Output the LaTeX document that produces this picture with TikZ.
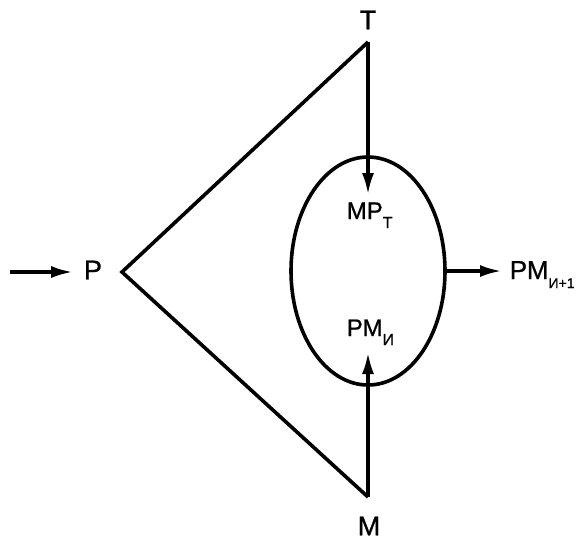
\documentclass[tikz,border=0pt]{standalone}
\usepackage{fontspec}
\setmainfont{Liberation Sans}[FakeBold=0.8]
\usetikzlibrary{arrows.meta,shapes.geometric}
\newcommand{\lowidx}[1]{\raisebox{-4.5pt}{\fontsize{8}{9}\selectfont #1}}
\newcommand{\lowidxs}[1]{\raisebox{-4.5pt}{\fontsize{7}{8}\selectfont #1}}

\begin{document}
\begin{tikzpicture}[x=0.5pt,y=-0.5pt,line width=1.8pt,
  >={Latex[length=11pt,width=6pt]},
  big/.style={inner sep=0pt,font=\fontsize{13.5}{15}\selectfont},
  small/.style={inner sep=0pt,font=\fontsize{12}{14}\selectfont}]
\useasboundingbox (0,0) rectangle (577,538);
\coordinate (top) at (368,42);
\coordinate (apex) at (122,272);
\coordinate (bot) at (368,497);
\coordinate (in) at (10,272);
\coordinate (tipT) at (368,195);
\coordinate (tipM) at (368,352);
\draw[line join=miter] (top) -- (apex) -- (bot);
\node[draw,ellipse,line width=1.8pt,inner sep=0pt,minimum width=77pt,minimum height=114pt] (loop) at (368,271) {};
\node[big] (T) at (368,20) {Т};
\node[big] (M) at (369,526) {М};
\node[big] (P) at (93,270) {Р};
\node[small,anchor=base west] (MPt) at (345,219) {МР\lowidx{Т}};
\node[small,anchor=base west] (PMi) at (345,336) {РМ\lowidx{И}};
\node[big,anchor=base west,font=\fontsize{13}{15}\selectfont] (PMn) at (508,279) {РМ\lowidxs{И+1}};
\draw[->] (top) -- (tipT);
\draw[->] (bot) -- (tipM);
\draw[->] (in) -- (in -| P.west) [shorten >=4.5pt];
\draw[->] (loop.east) -- (PMn.west |- loop.east) [shorten >=3pt];
\end{tikzpicture}
\end{document}
